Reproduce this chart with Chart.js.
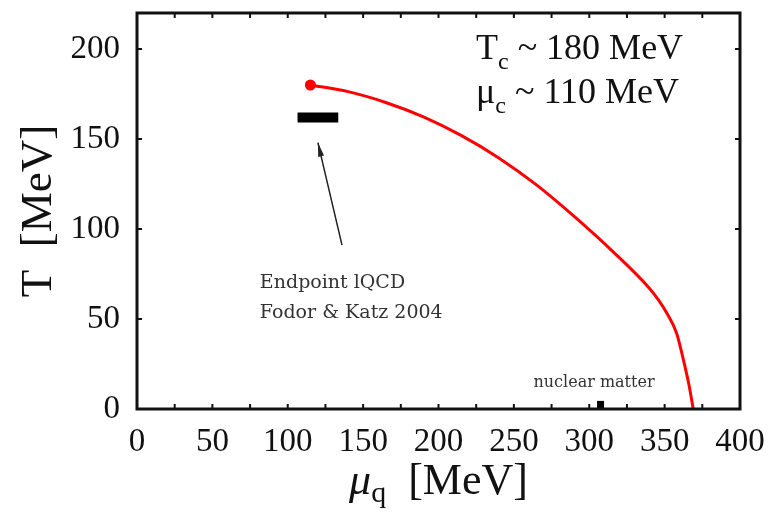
<!DOCTYPE html>
<html>
<head>
<meta charset="utf-8">
<script src="https://cdn.jsdelivr.net/npm/chart.js@4.4.1/dist/chart.umd.min.js"></script>
<style>
    html, body { margin: 0; padding: 0; background: #fff; }
    #wrap { width: 769px; height: 519px; }
</style>
</head>
<body>
<div id="wrap"><canvas id="phaseChart" width="769" height="519"></canvas></div>
<script>
// --- DATA ---
// chiral transition line, mu_q [MeV] vs T [MeV]
const phaseMu = [115, 140, 165, 190, 215, 240, 265, 290, 315, 340, 346, 352, 358, 362, 366, 369];
const phaseT  = [180, 176.3, 170.3, 162.3, 152, 139.5, 124.5, 107, 88, 67, 60.5, 52.5, 42, 29, 14, 0];

// lattice QCD endpoint (Fodor & Katz 2004)
const lqcdMu = [106.5, 133.5];
const lqcdT  = [162, 162];

// nuclear matter marker
const nmMu = [307.5, 307.5];
const nmT  = [0, 4.5];

// arrow pointing at the lattice endpoint (tail, tip)
const arrowMu = [136, 120];
const arrowT  = [91, 148];

// axis ticks
const xTicks = [0, 50, 100, 150, 200, 250, 300, 350, 400];
const yTicks = [0, 50, 100, 150, 200];
const xMinorStep = 25;

const SERIF = '"Liberation Serif", "Times New Roman", serif';
const LABEL_SERIF = '"DejaVu Serif", serif';

function toXY(xs, ys) {
    return xs.map((x, i) => ({ x: x, y: ys[i] }));
}

// --- FRAME, TICKS, ANNOTATIONS ---
const framePlugin = {
    id: 'framePlugin',
    afterDatasetsDraw(chart) {
        const { ctx, chartArea: a, scales: { x, y } } = chart;
        ctx.save();

        // inner ticks on all four sides
        ctx.strokeStyle = '#111';
        ctx.lineWidth = 2;
        for (let v = x.min; v <= x.max; v += xMinorStep) {
            const px = x.getPixelForValue(v);
            ctx.beginPath();
            ctx.moveTo(px, a.bottom); ctx.lineTo(px, a.bottom - 5);
            ctx.moveTo(px, a.top); ctx.lineTo(px, a.top + 5);
            ctx.stroke();
        }
        yTicks.forEach(v => {
            const py = y.getPixelForValue(v);
            ctx.beginPath();
            ctx.moveTo(a.left, py); ctx.lineTo(a.left + 5, py);
            ctx.moveTo(a.right, py); ctx.lineTo(a.right - 5, py);
            ctx.stroke();
        });

        // box
        ctx.lineWidth = 3;
        ctx.strokeStyle = '#111';
        ctx.strokeRect(a.left, a.top, a.right - a.left, a.bottom - a.top);

        // arrow head at the tip
        const tx = x.getPixelForValue(arrowMu[1]), ty = y.getPixelForValue(arrowT[1]);
        const sx = x.getPixelForValue(arrowMu[0]), sy = y.getPixelForValue(arrowT[0]);
        const ang = Math.atan2(ty - sy, tx - sx);
        ctx.fillStyle = '#222';
        ctx.beginPath();
        ctx.moveTo(tx, ty);
        ctx.lineTo(tx - 14 * Math.cos(ang) + 3 * Math.sin(ang), ty - 14 * Math.sin(ang) - 3 * Math.cos(ang));
        ctx.lineTo(tx - 14 * Math.cos(ang) - 3 * Math.sin(ang), ty - 14 * Math.sin(ang) + 3 * Math.cos(ang));
        ctx.closePath();
        ctx.fill();

        // annotation labels
        ctx.fillStyle = '#333';
        ctx.textBaseline = 'alphabetic';
        ctx.textAlign = 'left';
        ctx.font = '19px ' + LABEL_SERIF;
        ctx.fillText('Endpoint lQCD', x.getPixelForValue(81.5), y.getPixelForValue(67));
        ctx.fillText('Fodor & Katz 2004', x.getPixelForValue(81.5), y.getPixelForValue(50.5));
        ctx.font = '16px ' + LABEL_SERIF;
        ctx.fillText('nuclear matter', x.getPixelForValue(263), y.getPixelForValue(12));

        // Tc / mu_c text
        drawSub(ctx, 'T', 'c', ' ~ 180 MeV', 476, 59, 36);
        drawSub(ctx, '\u03bc', 'c', ' ~ 110 MeV', 476, 103, 36);

        // x axis title: mu_q [MeV]
        ctx.fillStyle = '#111';
        ctx.font = 'italic 44px ' + SERIF;
        const wMu = ctx.measureText('\u03bc').width;
        ctx.font = '30px ' + SERIF;
        const wQ = ctx.measureText('q').width;
        ctx.font = '44px ' + SERIF;
        const wRest = ctx.measureText('  [MeV]').width;
        let cx = (a.left + a.right) / 2 - (wMu + wQ + wRest) / 2;
        const by = 494;
        ctx.font = 'italic 44px ' + SERIF;
        ctx.fillText('\u03bc', cx, by); cx += wMu;
        ctx.font = '30px ' + SERIF;
        ctx.fillText('q', cx, by + 8); cx += wQ;
        ctx.font = '44px ' + SERIF;
        ctx.fillText('  [MeV]', cx, by);

        ctx.restore();
    }
};

function drawSub(ctx, main, sub, rest, x0, base, size) {
    ctx.fillStyle = '#111';
    ctx.font = size + 'px ' + SERIF;
    ctx.fillText(main, x0, base);
    let cx = x0 + ctx.measureText(main).width;
    ctx.font = Math.round(size * 0.66) + 'px ' + SERIF;
    ctx.fillText(sub, cx, base + 10);
    cx += ctx.measureText(sub).width;
    ctx.font = size + 'px ' + SERIF;
    ctx.fillText(rest, cx, base);
}

// --- CHART ---
const ctx = document.getElementById('phaseChart');
new Chart(ctx, {
    type: 'line',
    data: {
        datasets: [
            {
                label: 'transition line',
                data: toXY(phaseMu, phaseT),
                borderColor: '#ff0000',
                backgroundColor: '#ff0000',
                borderWidth: 3,
                cubicInterpolationMode: 'monotone',
                pointRadius: c => (c.dataIndex === 0 ? 5.5 : 0),
                pointBorderWidth: 0,
                clip: false
            },
            {
                label: 'lQCD endpoint',
                data: toXY(lqcdMu, lqcdT),
                borderColor: '#000',
                borderWidth: 10,
                borderCapStyle: 'butt',
                tension: 0,
                pointRadius: 0,
                pointHitRadius: 0
            },
            {
                label: 'nuclear matter',
                data: toXY(nmMu, nmT),
                borderColor: '#000',
                borderWidth: 7,
                borderCapStyle: 'butt',
                tension: 0,
                pointRadius: 0,
                clip: false
            },
            {
                label: 'arrow',
                data: toXY(arrowMu, arrowT),
                borderColor: '#222',
                borderWidth: 1.5,
                tension: 0,
                pointRadius: 0
            }
        ]
    },
    options: {
        responsive: false,
        animation: false,
        layout: { padding: { top: 13, right: 29, left: 0, bottom: 0 } },
        plugins: { legend: { display: false }, tooltip: { enabled: false } },
        scales: {
            x: {
                type: 'linear',
                min: 0,
                max: 400,
                afterBuildTicks: s => { s.ticks = xTicks.map(v => ({ value: v })); },
                afterFit: s => { s.height = 110; s.paddingLeft = 0; s.paddingRight = 0; },
                grid: { display: false, drawTicks: false },
                border: { display: false },
                ticks: { color: '#111', padding: 14, maxRotation: 0, font: { family: SERIF, size: 33 } }
            },
            y: {
                type: 'linear',
                min: 0,
                max: 220,
                afterBuildTicks: s => { s.ticks = yTicks.map(v => ({ value: v })); },
                afterFit: s => { s.width = 137; s.paddingTop = 0; s.paddingBottom = 0; },
                grid: { display: false, drawTicks: false },
                border: { display: false },
                ticks: { color: '#111', padding: 17, font: { family: SERIF, size: 33 } },
                title: {
                    display: true,
                    text: 'T  [MeV]',
                    color: '#111',
                    padding: { top: 12, bottom: 0 },
                    font: { family: SERIF, size: 45 }
                }
            }
        }
    },
    plugins: [framePlugin]
});
</script>
</body>
</html>
